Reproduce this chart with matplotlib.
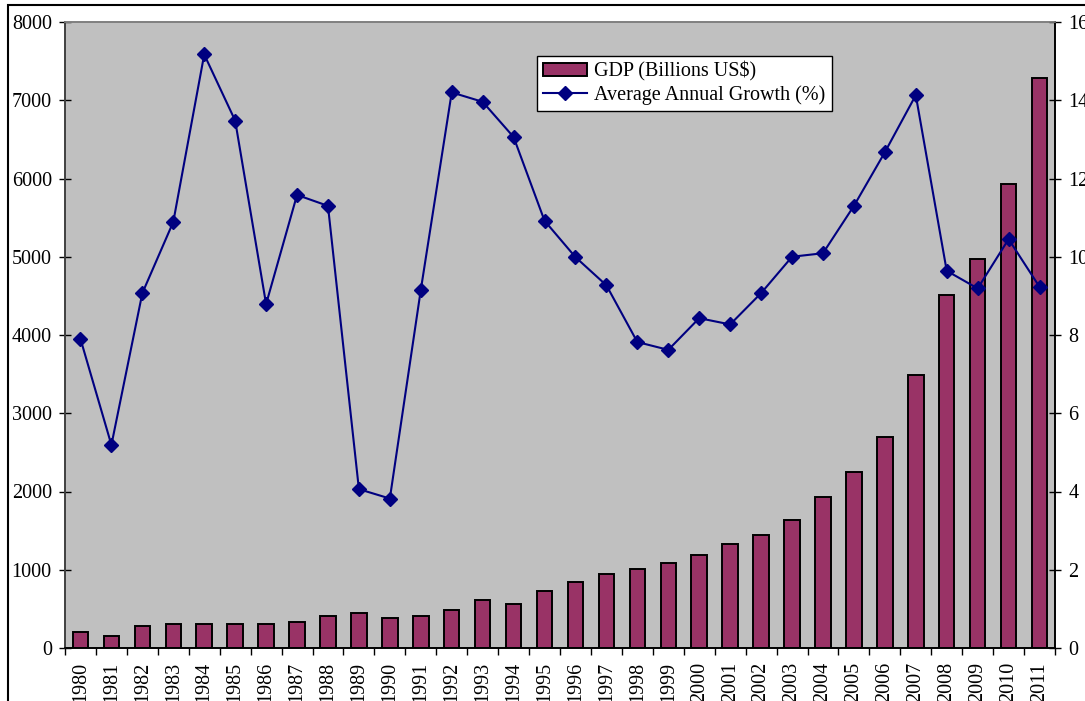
import numpy as np
import matplotlib
matplotlib.use("Agg")
import matplotlib.pyplot as plt
from matplotlib.patches import Rectangle

plt.rcParams['font.family'] = ['Liberation Serif', 'DejaVu Serif']

# data
years = [str(y) for y in range(1980, 2012)]
gdp = [199, 157, 285, 307, 307, 307, 307, 328, 404, 442,
       383, 404, 486, 608, 562, 728, 847, 950, 1009, 1090,
       1188, 1329, 1448, 1632, 1934, 2254, 2697, 3489, 4511, 4976,
       5930, 7281]
growth = [7.90, 5.19, 9.07, 10.89, 15.17, 13.48, 8.79, 11.58, 11.30, 4.06,
          3.82, 9.15, 14.20, 13.96, 13.06, 10.92, 9.99, 9.27, 7.82, 7.62,
          8.43, 8.27, 9.07, 10.00, 10.09, 11.30, 12.67, 14.13, 9.64, 9.19,
          10.45, 9.23]

W, H = 1085, 701
fig = plt.figure(figsize=(W / 100, H / 100), dpi=100)
ax = fig.add_axes([65 / W, (H - 648) / H, 990 / W, 626 / H])
ax.set_facecolor('#C0C0C0')

x = np.arange(len(years))
bars = ax.bar(x, gdp, width=0.5, color='#993366', edgecolor='black',
              linewidth=1.4, label='GDP (Billions US$)', zorder=2)
ax.set_xlim(-0.5, len(years) - 0.5)
ax.set_ylim(0, 8000)
ax.set_yticks(range(0, 8001, 1000))

ax2 = ax.twinx()
line, = ax2.plot(x, growth, color='#000080', linewidth=1.5, marker='D',
                 markersize=7, label='Average Annual Growth (%)', zorder=3)
ax2.set_ylim(0, 16)
ax2.set_yticks(range(0, 17, 2))

fs = 14.5
# category ticks between bars, labels at centers
ax.set_xticks(x)
ax.set_xticklabels(years, rotation=90, fontsize=fs)
ax.set_xticks(np.arange(-0.5, len(years), 1), minor=True)
ax.tick_params(axis='x', which='major', length=0, pad=10)
ax.tick_params(axis='x', which='minor', direction='out', length=5, width=1, color='black')
ax.tick_params(axis='y', direction='inout', length=9, width=1, labelsize=fs, pad=5)
ax2.tick_params(axis='y', direction='inout', length=9, width=1, labelsize=fs, pad=5)

for a in (ax, ax2):
    a.spines['top'].set_color('#808080')
    a.spines['left'].set_color('#404040')
    a.spines['right'].set_color('black')
    a.spines['bottom'].set_color('black')
    for s in a.spines.values():
        s.set_linewidth(1.2)

leg = ax2.legend([bars, line], ['GDP (Billions US$)', 'Average Annual Growth (%)'],
                 loc='upper left', bbox_to_anchor=(0.4768, 0.946), borderaxespad=0,
                 fontsize=fs, frameon=True, fancybox=False, edgecolor='black',
                 framealpha=1, handlelength=2.2, handleheight=0.6, numpoints=1,
                 borderpad=0.3, labelspacing=0.15, handletextpad=0.35)
leg.get_frame().set_linewidth(1.0)

# outer chart border (only top and left edges fall inside the image)
fig.add_artist(Rectangle((8 / W, -0.1), 1.2, 1 - 5 / H + 0.1, fill=False,
                         edgecolor='black', linewidth=1.5,
                         transform=fig.transFigure, clip_on=False))

fig.savefig('out.png', dpi=100, facecolor='white')
